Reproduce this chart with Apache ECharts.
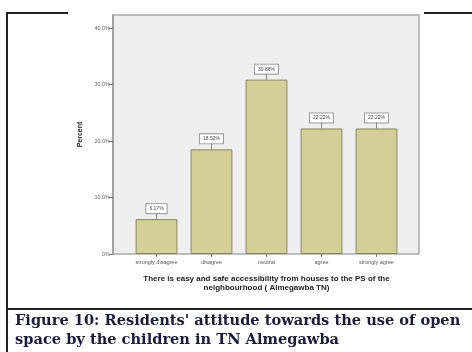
<!DOCTYPE html>
<html>
<head>
<meta charset="utf-8">
<script src="https://cdn.jsdelivr.net/npm/echarts@6/dist/echarts.min.js"></script>
<style>
  html, body { margin: 0; padding: 0; background: #fff; }
  #chart { width: 472px; height: 352px; }
</style>
</head>
<body>
<div id="chart"></div>
<script>
// Response categories and their share of residents (percent)
const categories = ['strongly disagree', 'disagree', 'neutral', 'agree', 'strongly agree'];
const percents = [6.17, 18.52, 30.86, 22.22, 22.22];
// Percent axis
const yMin = 0;
const yMax = 42.3;
const yStep = 10;

const xTitle = 'There is easy and safe accessibility from houses to the PS of the\nneighbourhood ( Almegawba TN)';
const caption = "Figure 10: Residents' attitude towards the use of open\nspace by the children in TN Almegawba";

const chart = echarts.init(document.getElementById('chart'), null, { renderer: 'canvas' });
const sans = 'Liberation Sans, Arial, sans-serif';
const frameColor = '#222';

chart.setOption({
  animation: false,
  grid: [
    { left: 113, top: 15, width: 306, height: 239, show: true,
      backgroundColor: '#EFEFEF', borderColor: '#ABABAB', borderWidth: 1.5 },
    { left: 129, top: 15, width: 275, height: 239 }
  ],
  xAxis: [
    { gridIndex: 0, type: 'value', show: false, min: 0, max: 1 },
    { gridIndex: 1, type: 'category', data: categories,
      axisLine: { show: false },
      axisTick: { show: true, alignWithLabel: true, length: 3, lineStyle: { color: '#777', width: 1 } },
      axisLabel: { fontSize: 5.5, color: '#555', fontFamily: sans, margin: 5, interval: 0 },
      name: xTitle, nameLocation: 'middle', nameGap: 21,
      nameTextStyle: { fontSize: 8, fontWeight: 'bold', color: '#222', fontFamily: sans, lineHeight: 8.5 } }
  ],
  yAxis: [
    { gridIndex: 0, type: 'value', min: yMin, max: yMax, interval: yStep,
      axisLine: { show: true, lineStyle: { color: '#999', width: 1.5 } },
      axisTick: { show: true, length: 4, lineStyle: { color: '#777' } },
      splitLine: { show: false },
      axisLabel: { fontSize: 5.5, color: '#666', fontFamily: sans, margin: 3, showMaxLabel: false,
        formatter: v => v === 0 ? '0%' : v.toFixed(1) + '%' },
      name: 'Percent', nameLocation: 'middle', nameGap: 29, nameRotate: 90,
      nameTextStyle: { fontSize: 7, fontWeight: 'bold', color: '#222', fontFamily: sans } },
    { gridIndex: 1, type: 'value', min: yMin, max: yMax, show: false }
  ],
  series: [
    {
      type: 'bar', xAxisIndex: 1, yAxisIndex: 1, data: percents, barWidth: '76%',
      itemStyle: { color: '#D4CF98', borderColor: '#8A865E', borderWidth: 1 },
      label: { show: true, position: 'top', distance: 6, fontSize: 5, color: '#444', fontFamily: sans,
        formatter: p => p.value.toFixed(2) + '%',
        backgroundColor: '#fff', borderColor: '#999', borderWidth: 1, padding: [2, 3] }
    },
    {
      // short leader line joining each value box to its bar
      type: 'custom', xAxisIndex: 1, yAxisIndex: 1, data: percents.map((v, i) => [i, v]),
      renderItem: (params, api) => {
        const pt = api.coord([api.value(0), api.value(1)]);
        return { type: 'line', shape: { x1: pt[0], y1: pt[1], x2: pt[0], y2: pt[1] - 6 },
          style: { stroke: '#888', lineWidth: 1 } };
      },
      z: 3
    }
  ],
  graphic: [
    { type: 'line', shape: { x1: 7, y1: 13, x2: 7, y2: 352 }, style: { stroke: frameColor, lineWidth: 2 } },
    { type: 'line', shape: { x1: 6, y1: 13, x2: 68, y2: 13 }, style: { stroke: frameColor, lineWidth: 2 } },
    { type: 'line', shape: { x1: 424, y1: 13, x2: 472, y2: 13 }, style: { stroke: frameColor, lineWidth: 2 } },
    { type: 'line', shape: { x1: 6, y1: 309, x2: 472, y2: 309 }, style: { stroke: frameColor, lineWidth: 2 } },
    { type: 'text', left: 15, top: 312,
      style: { text: caption, font: 'bold 14.6px "DejaVu Serif", serif', fill: '#1C1C3A', lineHeight: 19 } }
  ]
});
</script>
</body>
</html>
